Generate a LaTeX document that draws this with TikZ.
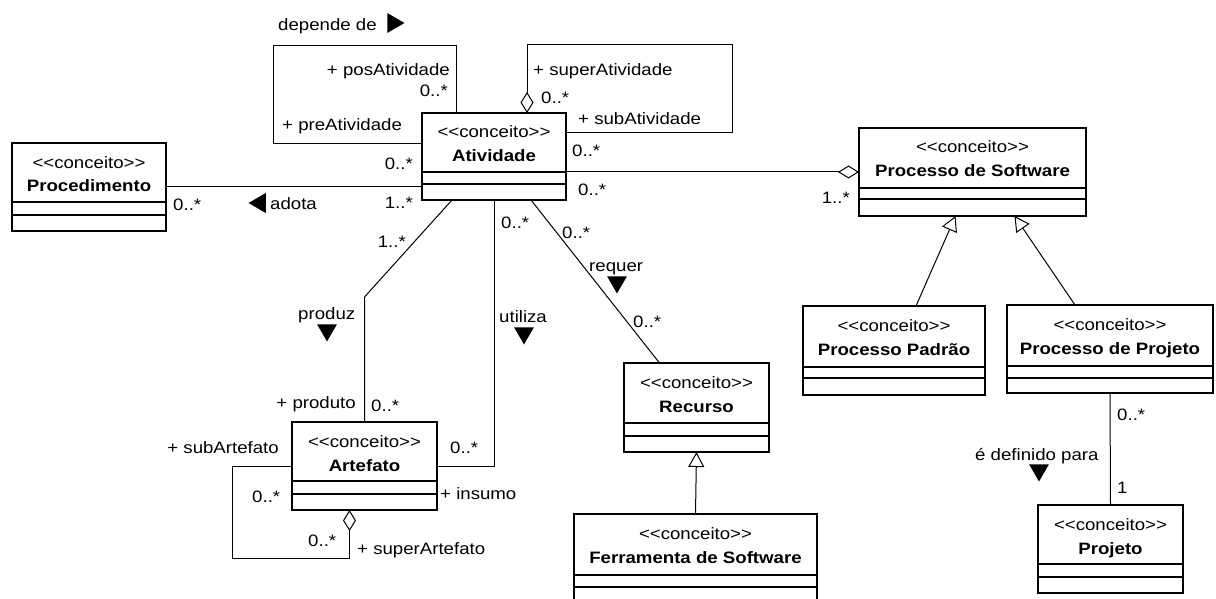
\documentclass[tikz,border=0pt]{standalone}
\usepackage{fontspec}
\setmainfont{Liberation Sans}[FakeStretch=1.13]
\usepackage{tikz}
\usetikzlibrary{arrows.meta,shapes.geometric}

\tikzset{
  classbox/.style={draw, line width=2.6pt, inner sep=0pt, outer sep=0pt},
  compline/.style={line width=1.3pt},
  assoc/.style={line width=1pt},
  aggr/.style={assoc, arrows={Diamond[fill=white,length=21pt,width=13pt]-}},
  aggrend/.style={assoc, arrows={-Diamond[fill=white,length=21pt,width=13pt]}},
  gener/.style={assoc, arrows={-Triangle[fill=white,length=15pt,width=16pt]}},
  lbl/.style={inner sep=0pt, font=\fontsize{16.5}{18}\selectfont},
  stereo/.style={lbl, anchor=base},
  cname/.style={lbl, anchor=base, font=\bfseries\fontsize{16.5}{18}\selectfont},
  dirmark/.style={regular polygon, regular polygon sides=3, fill, draw=none,
    inner sep=0pt, minimum size=23pt}
}

% #1 name, #2 left, #3 top, #4 right, #5 bottom, #6 #7 compartments, #8 title
\newcommand{\conceito}[8]{%
  \node[classbox, minimum width={(#4-#2)*1pt}, minimum height={(#5-#3)*1pt}]
    (#1) at ({(#2+#4)/2},{(#3+#5)/2}) {};
  \draw[compline] (#2,#6) -- (#4,#6) (#2,#7) -- (#4,#7);
  \node[stereo] (#1-st) at ({(#2+#4)/2},{#3+25}) {<\kern0pt<conceito>\kern0pt>};
  \node[cname] (#1-nm) at ({(#2+#4)/2},{#3+49}) {#8};
}

\begin{document}
\begin{tikzpicture}[x=1pt, y=-1pt]
    \useasboundingbox (0,0) rectangle (1216,599);
    \clip (0,0) rectangle (1216,599);
    \fill[white] (0,0) rectangle (1216,599);

    \conceito{proc}{12}{143}{166}{231}{202}{215}{Procedimento}
    \conceito{atv}{422}{113}{566}{200}{172}{184}{Atividade}
    \conceito{sw}{859}{128}{1086}{216}{188}{199}{Processo de Software}
    \conceito{pad}{803}{306}{985}{395}{367}{378}{Processo Padrão}
    \conceito{pp}{1007}{305}{1213}{393}{366}{378}{Processo de Projeto}
    \conceito{art}{292}{422}{437}{510}{481}{494}{Artefato}
    \conceito{rec}{624}{363}{769}{452}{423}{436}{Recurso}
    \conceito{fer}{574}{514}{817}{612}{575}{587}{Ferramenta de Software}
    \conceito{proj}{1038}{505}{1183}{593}{564}{577}{Projeto}

    % associations
    \draw[assoc] (proc.east) -- (proc.east -| atv.west);
    \draw[assoc] ([xshift=-38pt]atv.north) -- ++(0,-67) -- ++(-183,0) -- ++(0,98) -- ++(149,0);
    \draw[aggr] ([xshift=33pt]atv.north) -- ++(0,-68) -- ++(205,0) -- ++(0,88) -- ++(-166,0);
    \draw[aggrend] (atv.east |- sw.west) -- (sw.west);
    \draw[assoc] (art.north) -- ++(0,-125) -- ([xshift=-42pt]atv.south);
    \draw[assoc] (atv.south) |- (art.east);
    \draw[assoc] ([xshift=37pt]atv.south) -- ([xshift=-37pt]rec.north);
    \draw[aggr] ([xshift=-15pt]art.south) -- ++(0,48) -- ++(-117,0) |- (art.west);
    \draw[assoc] (pp.south) -- (proj.north);

    % generalizations
    \draw[gener] ([xshift=22pt]pad.north) -- ([xshift=-17pt]sw.south);
    \draw[gener] ([xshift=-35pt]pp.north) -- ([xshift=42pt]sw.south);
    \draw[gener] (fer.north) -- (rec.south);

    % association names
    \node[lbl, anchor=base west] (tDepende) at (278,31) {depende de};
    \node[dirmark, regular polygon rotate=-90] (dDepende) at (393,23) {};
    \node[dirmark, regular polygon rotate=90] (dAdota) at (260,203) {};
    \node[lbl, anchor=base west] (tAdota) at (270,209) {adota};
    \node[lbl, anchor=base west] (tProduz) at (298,319) {produz};
    \node[dirmark, regular polygon rotate=180] (dProduz) at (327,330) {};
    \node[lbl, anchor=base west] (tUtiliza) at (499,322) {utiliza};
    \node[dirmark, regular polygon rotate=180] (dUtiliza) at (524,333) {};
    \node[lbl, anchor=base west] (tRequer) at (589,271) {requer};
    \node[dirmark, regular polygon rotate=180] (dRequer) at (617,282) {};
    \node[lbl, anchor=base west] (tDefinido) at (975,460) {é definido para};
    \node[dirmark, regular polygon rotate=180] (dDefinido) at (1039,470) {};

    % roles and multiplicities
    \node[lbl, anchor=base east] (rPos) at (450,76) {+ posAtividade};
    \node[lbl, anchor=base east] (mPos) at (448,97) {0..*};
    \node[lbl, anchor=base west] (rPre) at (282,131) {+ preAtividade};
    \node[lbl, anchor=base east] (mPre) at (413,170) {0..*};
    \node[lbl, anchor=base west] (mAdotaProc) at (173,210) {0..*};
    \node[lbl, anchor=base east] (mAdotaAtv) at (413,208) {1..*};
    \node[lbl, anchor=base east] (mProdAtv) at (406,247) {1..*};
    \node[lbl, anchor=base west] (mUtilAtv) at (501,229) {0..*};
    \node[lbl, anchor=base west] (mReqAtv) at (562,238) {0..*};
    \node[lbl, anchor=base west] (mReqRec) at (633,327) {0..*};
    \node[lbl, anchor=base east] (rProduto) at (356,408) {+ produto};
    \node[lbl, anchor=base west] (mProdArt) at (371,411) {0..*};
    \node[lbl, anchor=base east] (rSubArt) at (279,453) {+ subArtefato};
    \node[lbl, anchor=base west] (mUtilArt) at (450,453) {0..*};
    \node[lbl, anchor=base west] (mSubArt) at (252,502) {0..*};
    \node[lbl, anchor=base west] (rInsumo) at (440,499) {+ insumo};
    \node[lbl, anchor=base west] (mSupArt) at (308,546) {0..*};
    \node[lbl, anchor=base west] (rSupArt) at (357,554) {+ superArtefato};
    \node[lbl, anchor=base west] (rSupAtv) at (533,76) {+ superAtividade};
    \node[lbl, anchor=base west] (mSupAtv) at (541,104) {0..*};
    \node[lbl, anchor=base west] (rSubAtv) at (578,125) {+ subAtividade};
    \node[lbl, anchor=base west] (mSubAtv) at (572,157) {0..*};
    \node[lbl, anchor=base west] (mProcAtv) at (578,195) {0..*};
    \node[lbl, anchor=base east] (mProcSw) at (850,204) {1..*};
    \node[lbl, anchor=base west] (mDefPp) at (1117,420) {0..*};
    \node[lbl, anchor=base west] (mDefProj) at (1117,493) {1};
\end{tikzpicture}
\end{document}
